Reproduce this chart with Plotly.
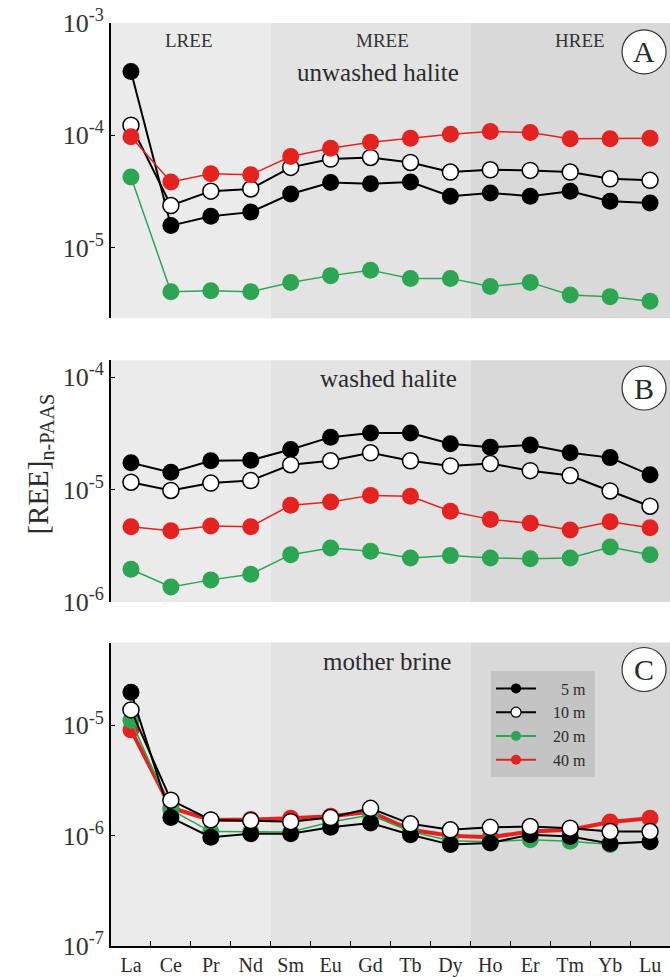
import plotly.graph_objects as go

elements = ["La", "Ce", "Pr", "Nd", "Sm", "Eu", "Gd", "Tb", "Dy", "Ho", "Er", "Tm", "Yb", "Lu"]
groups = [("LREE", ["La", "Ce", "Pr", "Nd"]),
          ("MREE", ["Sm", "Eu", "Gd", "Tb", "Dy"]),
          ("HREE", ["Ho", "Er", "Tm", "Yb", "Lu"])]
series_names = ["5 m", "10 m", "20 m", "40 m"]

# Panel A: unwashed halite
A_5m = [3.7e-4, 1.57e-5, 1.9e-5, 2.07e-5, 3.0e-5, 3.8e-5, 3.7e-5, 3.84e-5, 2.87e-5, 3.07e-5, 2.87e-5, 3.18e-5, 2.59e-5, 2.5e-5]
A_10m = [1.23e-4, 2.37e-5, 3.18e-5, 3.33e-5, 5.18e-5, 6.14e-5, 6.35e-5, 5.73e-5, 4.71e-5, 4.93e-5, 4.87e-5, 4.71e-5, 4.1e-5, 3.97e-5]
A_20m = [4.25e-5, 4.05e-6, 4.13e-6, 4.05e-6, 4.9e-6, 5.63e-6, 6.3e-6, 5.32e-6, 5.32e-6, 4.5e-6, 4.9e-6, 3.79e-6, 3.66e-6, 3.33e-6]
A_40m = [9.7e-5, 3.84e-5, 4.55e-5, 4.46e-5, 6.48e-5, 7.67e-5, 8.67e-5, 9.4e-5, 1.02e-4, 1.08e-4, 1.06e-4, 9.3e-5, 9.3e-5, 9.4e-5]

# Panel B: washed halite
B_5m = [1.73e-5, 1.42e-5, 1.8e-5, 1.82e-5, 2.27e-5, 2.92e-5, 3.18e-5, 3.18e-5, 2.55e-5, 2.38e-5, 2.48e-5, 2.12e-5, 1.92e-5, 1.35e-5]
B_10m = [1.16e-5, 9.8e-6, 1.14e-5, 1.2e-5, 1.66e-5, 1.8e-5, 2.12e-5, 1.8e-5, 1.62e-5, 1.7e-5, 1.47e-5, 1.33e-5, 9.7e-6, 7.1e-6]
B_20m = [1.95e-6, 1.36e-6, 1.57e-6, 1.76e-6, 2.63e-6, 3.01e-6, 2.82e-6, 2.46e-6, 2.58e-6, 2.46e-6, 2.42e-6, 2.46e-6, 3.08e-6, 2.63e-6]
B_40m = [4.67e-6, 4.3e-6, 4.73e-6, 4.67e-6, 7.24e-6, 7.74e-6, 8.86e-6, 8.7e-6, 6.41e-6, 5.42e-6, 5.0e-6, 4.36e-6, 5.17e-6, 4.57e-6]

# Panel C: mother brine
C_5m = [2.0e-5, 1.46e-6, 9.7e-7, 1.04e-6, 1.04e-6, 1.19e-6, 1.3e-6, 1.02e-6, 8.3e-7, 8.6e-7, 1.02e-6, 9.85e-7, 8.5e-7, 8.8e-7]
C_10m = [1.38e-5, 2.1e-6, 1.39e-6, 1.37e-6, 1.34e-6, 1.46e-6, 1.77e-6, 1.28e-6, 1.13e-6, 1.19e-6, 1.21e-6, 1.17e-6, 1.09e-6, 1.09e-6]
C_20m = [1.11e-5, 1.71e-6, 1.09e-6, 1.09e-6, 1.08e-6, 1.33e-6, 1.54e-6, 1.09e-6, 9.0e-7, 8.8e-7, 9.2e-7, 8.9e-7, 8.3e-7, 8.9e-7]
C_40m = [9.1e-6, 1.79e-6, 1.39e-6, 1.4e-6, 1.44e-6, 1.5e-6, 1.65e-6, 1.13e-6, 1.0e-6, 9.7e-7, 1.09e-6, 1.13e-6, 1.33e-6, 1.44e-6]

panel_titles = ["unwashed halite", "washed halite", "mother brine"]
panel_letters = ["A", "B", "C"]
y_tick_exps = [[-3, -4, -5], [-4, -5, -6], [-5, -6, -7]]
y_ranges = [[-5.63, -3.0], [-6.0, -3.85], [-7.0, -4.25]]
y_domains = [[0.680, 1.0], [0.3728, 0.6347], [0.0, 0.3287]]

SERIF = "Liberation Serif, Times New Roman, serif"
TXT = "#2b2b2b"
GREEN = "#2ca652"
RED = "#e42320"
region_colors = ["#ebebeb", "#e3e3e3", "#d9d9d9"]

def style(name, panel):
    if name == "5 m":
        return dict(line=dict(color="black", width=2),
                    marker=dict(color="black", size=17, line=dict(width=0)))
    if name == "10 m":
        return dict(line=dict(color="black", width=2),
                    marker=dict(color="white", size=16, line=dict(color="black", width=1.5)))
    if name == "20 m":
        return dict(line=dict(color=GREEN, width=1.5),
                    marker=dict(color=GREEN, size=17, line=dict(width=0)))
    return dict(line=dict(color=RED, width=4 if panel == 2 else 1.5),
                marker=dict(color=RED, size=17, line=dict(width=0)))

data = [
    {"5 m": A_5m, "10 m": A_10m, "20 m": A_20m, "40 m": A_40m},
    {"5 m": B_5m, "10 m": B_10m, "20 m": B_20m, "40 m": B_40m},
    {"5 m": C_5m, "10 m": C_10m, "20 m": C_20m, "40 m": C_40m},
]
orders = [["5 m", "10 m", "20 m", "40 m"],
          ["5 m", "10 m", "20 m", "40 m"],
          ["40 m", "20 m", "5 m", "10 m"]]

fig = go.Figure()
for p in range(3):
    yref = "y" if p == 0 else f"y{p + 1}"
    for name in orders[p]:
        s = style(name, p)
        fig.add_trace(go.Scatter(x=elements, y=data[p][name], mode="lines+markers",
                                 xaxis="x", yaxis=yref, showlegend=False,
                                 line=s["line"], marker=s["marker"], name=name))

# legend entries (non-breaking spaces right-align the labels)
PAD = "\u00a0\u00a0\u00a0"
leg_labels = [PAD + "\u00a0\u00a05 m\u00a0", PAD + "10 m\u00a0", PAD + "20 m\u00a0", PAD + "40 m\u00a0"]
for name, lab in zip(series_names, leg_labels):
    s = style(name, 0)
    mk = dict(s["marker"])
    mk["size"] = 10
    if name == "10 m":
        mk["line"] = dict(color="black", width=1.2)
    fig.add_trace(go.Scatter(x=[None], y=[None], mode="lines+markers", xaxis="x", yaxis="y3",
                             line=dict(color=s["line"]["color"], width=2), marker=mk,
                             name=lab, showlegend=True))

shapes = []
annotations = []
idx = {e: i for i, e in enumerate(elements)}
for p in range(3):
    ydom = ("y" if p == 0 else f"y{p + 1}") + " domain"
    for (gname, members), col in zip(groups, region_colors):
        shapes.append(dict(type="rect", xref="x", yref=ydom,
                           x0=idx[members[0]] - 0.5, x1=idx[members[-1]] + 0.5, y0=0, y1=1,
                           fillcolor=col, line=dict(width=0), layer="below"))

# helper: pixel -> paper
H_TOP, H_BOT, PLOT_H = 23, 951, 928
def py(ypix):
    return (H_BOT - ypix) / PLOT_H

# circle letter labels
circle_y = [52, 390, 673]
for p in range(3):
    shapes.append(dict(type="circle", xref="x", yref="paper", xsizemode="pixel", ysizemode="pixel",
                       xanchor=12.85, yanchor=py(circle_y[p]), x0=-22, x1=22, y0=-22, y1=22,
                       fillcolor="white", line=dict(color="#333333", width=1.2), layer="above"))
    annotations.append(dict(x=12.85, y=py(circle_y[p]), xref="x", yref="paper",
                            text=panel_letters[p], showarrow=False,
                            font=dict(family=SERIF, size=30, color=TXT),
                            xanchor="center", yanchor="middle"))

# panel titles
title_pos = [(6.19, 73), (6.44, 380), (6.41, 665)]
for p in range(3):
    annotations.append(dict(x=title_pos[p][0], y=py(title_pos[p][1]), xref="x", yref="paper",
                            text=panel_titles[p], showarrow=False,
                            font=dict(family=SERIF, size=25, color=TXT),
                            xanchor="center", yanchor="middle"))

# region labels (panel A)
region_label_x = [1.45, 6.29, 11.24]
for (gname, members), xx in zip(groups, region_label_x):
    annotations.append(dict(x=xx, y=py(41), xref="x", yref="paper", text=gname, showarrow=False,
                            font=dict(family=SERIF, size=19, color="#333333"),
                            xanchor="center", yanchor="middle"))

# y title
annotations.append(dict(x=-0.127, y=py(467), xref="paper", yref="paper",
                        text="[REE]<sub>n-PAAS</sub>", showarrow=False, textangle=-90,
                        font=dict(family=SERIF, size=29, color=TXT),
                        xanchor="center", yanchor="middle"))

layout = dict(
    width=670, height=977,
    margin=dict(l=111, r=0, t=H_TOP, b=977 - H_BOT),
    paper_bgcolor="white", plot_bgcolor="white",
    shapes=shapes, annotations=annotations,
    showlegend=True,
    legend=dict(x=0.6798, y=py(675), xanchor="left", yanchor="top",
                bgcolor="#c4c4c4", borderwidth=0,
                font=dict(family=SERIF, size=16, color=TXT),
                tracegroupgap=0, itemwidth=40),
    xaxis=dict(type="category", categoryorder="array", categoryarray=elements,
               range=[-0.5, 13.5], domain=[0, 1], anchor="y3",
               showline=True, linecolor="black", linewidth=2,
               ticks="inside", tickson="boundaries", ticklen=5, tickcolor="black", tickwidth=1,
               showgrid=False, zeroline=False,
               tickfont=dict(family=SERIF, size=20, color=TXT)),
)
for p in range(3):
    key = "yaxis" if p == 0 else f"yaxis{p + 1}"
    exps = y_tick_exps[p]
    layout[key] = dict(type="log", range=y_ranges[p], domain=y_domains[p], anchor="x",
                       tickvals=[10.0 ** e for e in exps],
                       ticktext=[f"10<sup>{e}</sup>" for e in exps],
                       showline=True, linecolor="black", linewidth=2,
                       ticks="inside", ticklen=4, tickcolor="black", tickwidth=1,
                       showgrid=False, zeroline=False,
                       tickfont=dict(family=SERIF, size=26, color="#333333"))
fig.update_layout(**layout)

fig.write_html("out.html", config={"displayModeBar": False},
               post_script="document.body.style.margin='0';document.body.style.overflow='hidden';")
